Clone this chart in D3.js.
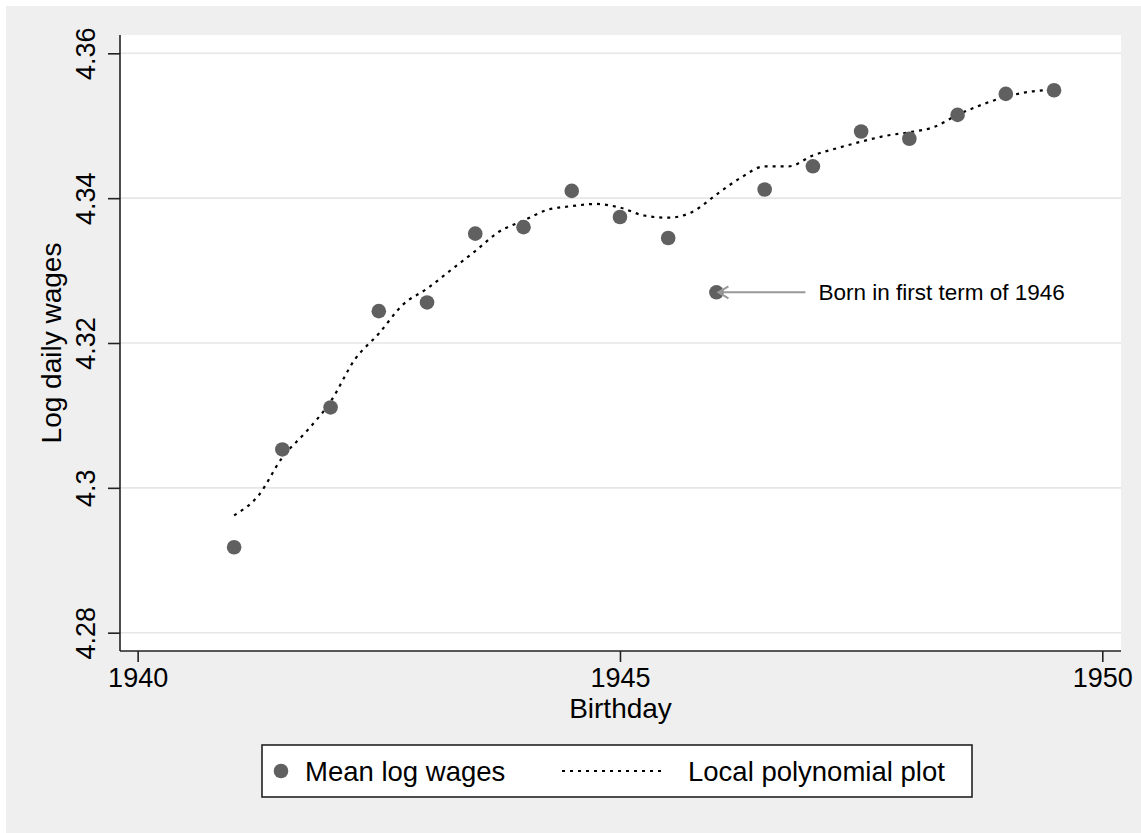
<!DOCTYPE html>
<html>
<head>
<meta charset="utf-8">
<script src="https://cdn.jsdelivr.net/npm/d3@7/dist/d3.min.js"></script>
<style>
  html, body { margin: 0; padding: 0; background: #ffffff; }
  svg { display: block; }
  text { font-family: "Liberation Sans", Arial, Helvetica, sans-serif; fill: #000; }
</style>
</head>
<body>
<svg id="chart" width="1141" height="833"></svg>
<script>
// ---------------- DATA ----------------
const birthYears = [1941, 1941.5, 1942, 1942.5, 1943, 1943.5, 1944, 1944.5, 1945,
                    1945.5, 1946, 1946.5, 1947, 1947.5, 1948, 1948.5, 1949, 1949.5];
const meanLogWages = [4.2918, 4.3053, 4.3111, 4.3244, 4.3256, 4.3351, 4.3360, 4.3410, 4.3374,
                      4.3345, 4.3270, 4.3412, 4.3444, 4.3492, 4.3482, 4.3515, 4.3544, 4.3549];

const smoothX = [1941, 1941.25, 1941.5, 1941.75, 1942, 1942.25, 1942.5, 1942.75, 1943,
                 1943.25, 1943.5, 1943.75, 1944, 1944.25, 1944.5, 1944.75, 1945, 1945.25,
                 1945.5, 1945.75, 1946, 1946.25, 1946.5, 1946.75, 1947, 1947.25, 1947.5,
                 1947.75, 1948, 1948.25, 1948.5, 1948.75, 1949, 1949.25, 1949.5];
const smoothY = [4.2962, 4.2989, 4.3042, 4.3078, 4.3119, 4.3177, 4.3213, 4.3253, 4.3275,
                 4.3301, 4.3327, 4.3354, 4.3369, 4.3384, 4.3389, 4.3392, 4.3387, 4.3376,
                 4.3373, 4.3381, 4.3405, 4.3428, 4.3444, 4.3444, 4.3459, 4.3469, 4.3478,
                 4.3486, 4.3491, 4.3498, 4.3515, 4.3529, 4.3540, 4.3547, 4.3550];

const xTicks = [1940, 1945, 1950];
const yTicks = [4.28, 4.30, 4.32, 4.34, 4.36];
const yTickLabels = ["4.28", "4.3", "4.32", "4.34", "4.36"];

const xTitle = "Birthday";
const yTitle = "Log daily wages";
const legendLabels = ["Mean log wages", "Local polynomial plot"];
const annotation = { year: 1946, value: 4.3270, text: "Born in first term of 1946" };

// ---------------- LAYOUT ----------------
const W = 1141, H = 833;
const plot = { left: 120, top: 35, right: 1121, bottom: 651 };
const markerColor = "#606060";

const svg = d3.select("#chart");

// outer background
svg.append("rect").attr("x", 6).attr("y", 6).attr("width", W - 6).attr("height", H - 6)
  .attr("fill", "#efefef");
// plot region
svg.append("rect").attr("x", plot.left).attr("y", plot.top)
  .attr("width", plot.right - plot.left).attr("height", plot.bottom - plot.top)
  .attr("fill", "#ffffff");

const x = d3.scaleLinear().domain([1939.817, 1950.194]).range([plot.left, plot.right]);
const y = d3.scaleLinear().domain([4.27747, 4.36253]).range([plot.bottom, plot.top]);

// gridlines
svg.append("g").selectAll("line").data(yTicks).join("line")
  .attr("x1", plot.left).attr("x2", plot.right)
  .attr("y1", d => y(d)).attr("y2", d => y(d))
  .attr("stroke", "#e6e6e6").attr("stroke-width", 1.6);

// y axis
const yAxis = d3.axisLeft(y).tickValues(yTicks).tickSize(12).tickPadding(13)
  .tickFormat((d, i) => yTickLabels[i]);
const gy = svg.append("g").attr("transform", `translate(${plot.left},0)`).call(yAxis);
gy.select(".domain").attr("d", `M0,${plot.top}V${plot.bottom}`).attr("stroke", "#222").attr("stroke-width", 1.6);
gy.selectAll(".tick line").attr("stroke", "#222").attr("stroke-width", 1.6);
gy.selectAll(".tick text")
  .attr("font-size", 27).attr("font-family", "Liberation Sans, Arial, sans-serif")
  .attr("fill", "#000")
  .attr("text-anchor", "middle")
  .attr("dy", 0)
  .attr("x", 0)
  .attr("transform", "translate(-25,0) rotate(-90)");

// x axis
const xAxis = d3.axisBottom(x).tickValues(xTicks).tickSize(11).tickPadding(6)
  .tickFormat(d3.format("d"));
const gx = svg.append("g").attr("transform", `translate(0,${plot.bottom})`).call(xAxis);
gx.select(".domain").attr("d", `M${plot.left},0H${plot.right}`).attr("stroke", "#222").attr("stroke-width", 1.6);
gx.selectAll(".tick line").attr("stroke", "#222").attr("stroke-width", 1.6);
gx.selectAll(".tick text")
  .attr("font-size", 27).attr("font-family", "Liberation Sans, Arial, sans-serif")
  .attr("fill", "#000").attr("dy", "0.71em");

// axis titles
svg.append("text").attr("x", (plot.left + plot.right) / 2).attr("y", 718)
  .attr("text-anchor", "middle").attr("font-size", 28).text(xTitle);
svg.append("text")
  .attr("transform", `translate(61,${(plot.top + plot.bottom) / 2}) rotate(-90)`)
  .attr("text-anchor", "middle").attr("font-size", 28).text(yTitle);

// smooth line
const line = d3.line().x(d => x(d[0])).y(d => y(d[1])).curve(d3.curveMonotoneX);
svg.append("path").datum(smoothX.map((v, i) => [v, smoothY[i]]))
  .attr("d", line).attr("fill", "none").attr("stroke", "#000")
  .attr("stroke-width", 2.2).attr("stroke-dasharray", "3,5");

// points
svg.append("g").selectAll("circle").data(birthYears.map((v, i) => [v, meanLogWages[i]])).join("circle")
  .attr("cx", d => x(d[0])).attr("cy", d => y(d[1])).attr("r", 7.3)
  .attr("fill", markerColor);

// annotation arrow
const ax = x(annotation.year), ay = y(annotation.value);
const ag = svg.append("g").attr("stroke", "#999").attr("stroke-width", 2).attr("fill", "none");
ag.append("line").attr("x1", ax + 2).attr("y1", ay).attr("x2", ax + 89).attr("y2", ay);
ag.append("path").attr("d", `M${ax + 12},${ay - 6}L${ax + 2},${ay}L${ax + 12},${ay + 6}`);
svg.append("text").attr("x", ax + 102).attr("y", ay).attr("dy", "0.36em")
  .attr("font-size", 22.5).text(annotation.text);

// legend
const lg = svg.append("g");
const lb = { x: 262, y: 745, w: 710, h: 52 };
lg.append("rect").attr("x", lb.x).attr("y", lb.y).attr("width", lb.w).attr("height", lb.h)
  .attr("fill", "#fff").attr("stroke", "#222").attr("stroke-width", 1.6);
const ly = lb.y + lb.h / 2;
lg.append("circle").attr("cx", 281).attr("cy", ly).attr("r", 7.3).attr("fill", markerColor);
lg.append("text").attr("x", 305).attr("y", ly).attr("dy", "0.36em").attr("font-size", 27.5).text(legendLabels[0]);
lg.append("line").attr("x1", 562).attr("x2", 666).attr("y1", ly).attr("y2", ly)
  .attr("stroke", "#000").attr("stroke-width", 2.2).attr("stroke-dasharray", "3,5");
lg.append("text").attr("x", 688).attr("y", ly).attr("dy", "0.36em").attr("font-size", 27.5).text(legendLabels[1]);
</script>
</body>
</html>
